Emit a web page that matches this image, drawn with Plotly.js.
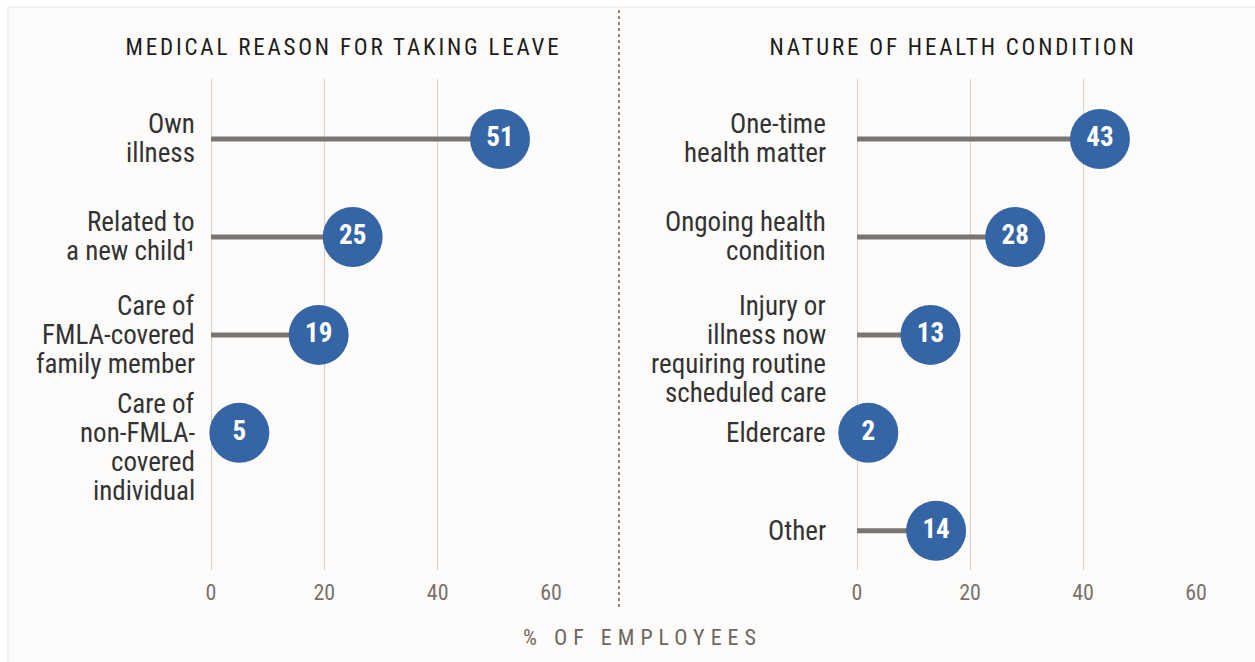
<!DOCTYPE html>
<html>
<head>
<meta charset="utf-8">
<script src="https://cdn.plot.ly/plotly-3.0.1.min.js"></script>
<style>
html,body{margin:0;padding:0;background:#fff;}
#chart{width:1255px;height:662px;}
g.annotation[data-index="0"] text, g.annotation[data-index="1"] text{letter-spacing:2.8px;}
g.annotation[data-index="2"] text{letter-spacing:6px;}
</style>
</head>
<body>
<div id="chart"></div>
<script>
// ---- data ----
const leftTitle = "MEDICAL REASON FOR TAKING LEAVE";
const rightTitle = "NATURE OF HEALTH CONDITION";
const axisLabel = "% OF EMPLOYEES";

const leftCategories = [
  "Own<br>illness",
  "Related to<br>a new child¹",
  "Care of<br>FMLA-covered<br>family member",
  "Care of<br>non-FMLA-<br>covered<br>individual"
];
const leftValues = [51, 25, 19, 5];

const rightCategories = [
  "One-time<br>health matter",
  "Ongoing health<br>condition",
  "Injury or<br>illness now<br>requiring routine<br>scheduled care",
  "Eldercare",
  "Other"
];
const rightValues = [43, 28, 13, 2, 14];

const xTicks = [0, 20, 40, 60];

// ---- styling ----
const FONT = "Roboto Condensed, Liberation Sans Narrow, Roboto, sans-serif";
const BLUE = "#3665a6";
const STEM = "#7b7571";
const W = 1255, H = 662;
const LINE_H = 29;

function stemTrace(vals, xa, ya) {
  const xs = [], ys = [];
  vals.forEach((v, i) => { xs.push(0, v, null); ys.push(i, i, null); });
  return {type:"scatter", mode:"lines", x:xs, y:ys, xaxis:xa, yaxis:ya,
          line:{color:STEM, width:5}, hoverinfo:"skip", showlegend:false, cliponaxis:false};
}
function dotTrace(vals, xa, ya) {
  return {type:"scatter", mode:"markers+text", x:vals, y:vals.map((v,i)=>i),
          xaxis:xa, yaxis:ya, text:vals.map(String), textposition:"middle center",
          textfont:{family:FONT, size:27, color:"#ffffff", weight:"bold"},
          marker:{size:60, color:BLUE, line:{width:0}},
          showlegend:false, cliponaxis:false};
}

// category labels: one annotation per line, right-aligned left of the axis
function labelAnnotations(cats, xref, yref, xshift) {
  const out = [];
  cats.forEach((c, i) => {
    const lines = c.split("<br>");
    const n = lines.length;
    lines.forEach((ln, k) => {
      const off = n >= 3 ? (k - 1) * LINE_H : (k - (n - 1) / 2) * LINE_H;
      out.push({text:ln, xref:xref, yref:yref, x:0, y:i, xanchor:"right", yanchor:"middle",
                xshift:xshift, yshift:-off, showarrow:false,
                font:{family:FONT, size:27, color:"#333333"}});
    });
  });
  return out;
}

const yRange = [4.4, -0.612];
function yAxis(anchor) {
  return {anchor:anchor, range:yRange, showticklabels:false,
          showgrid:false, zeroline:false, showline:false, ticks:"", fixedrange:true};
}
function xAxis(domain, anchor) {
  return {domain:domain, anchor:anchor, range:[0,60], tickmode:"array", tickvals:xTicks,
          showgrid:true, gridcolor:"#d3d0ce", gridwidth:1,
          zeroline:true, zerolinecolor:"#d3d0ce", zerolinewidth:1, showline:false,
          ticks:"outside", ticklen:3, tickcolor:"rgba(0,0,0,0)",
          tickfont:{family:FONT, size:22, color:"#7a716c"}, fixedrange:true};
}

const data = [
  stemTrace(leftValues, "x", "y"),
  dotTrace(leftValues, "x", "y"),
  stemTrace(rightValues, "x2", "y2"),
  dotTrace(rightValues, "x2", "y2")
];

const PH = H - 79 - 92;
const layout = {
  width:W, height:H,
  margin:{l:0, r:0, t:79, b:92},
  paper_bgcolor:"#ffffff", plot_bgcolor:"rgba(0,0,0,0)",
  xaxis: xAxis([211/W, 551/W], "y"),
  yaxis: yAxis("x"),
  xaxis2: xAxis([857/W, 1196/W], "y2"),
  yaxis2: yAxis("x2"),
  shapes:[
    {type:"rect", xref:"paper", yref:"paper", x0:8/W, x1:1.01, y0:-0.2, y1:(H-92-7)/PH,
     fillcolor:"#fdfcfb", line:{color:"#e6e6e6", width:1}, layer:"below"},
    {type:"line", xref:"paper", yref:"paper", x0:619/W, x1:619/W,
     y0:(H-92-607)/PH, y1:(H-92-7)/PH,
     line:{color:"#8f8680", width:2, dash:"dot"}}
  ],
  annotations:[
    {text:leftTitle, xref:"paper", yref:"paper", x:343/W, y:(H-92-47)/PH,
     xanchor:"center", yanchor:"middle", showarrow:false,
     font:{family:FONT, size:23, color:"#1c1c1c"}},
    {text:rightTitle, xref:"paper", yref:"paper", x:953/W, y:(H-92-47)/PH,
     xanchor:"center", yanchor:"middle", showarrow:false,
     font:{family:FONT, size:23, color:"#1c1c1c"}},
    {text:axisLabel, xref:"paper", yref:"paper", x:642/W, y:(H-92-637)/PH,
     xanchor:"center", yanchor:"middle", showarrow:false,
     font:{family:FONT, size:22, color:"#6e6661"}}
  ].concat(labelAnnotations(leftCategories, "x", "y", -14))
   .concat(labelAnnotations(rightCategories, "x2", "y2", -29))
};

Plotly.newPlot("chart", data, layout, {displayModeBar:false, staticPlot:true});
</script>
</body>
</html>
